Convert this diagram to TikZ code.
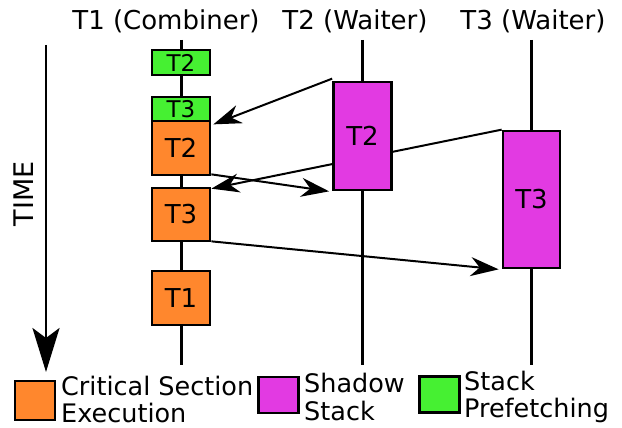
\documentclass[tikz,border=0pt]{standalone}
\usepackage{fontspec}
\setmainfont{DejaVu Sans}
\usetikzlibrary{arrows.meta}
\definecolor{cso}{RGB}{255,135,45}
\definecolor{ssm}{RGB}{226,58,226}
\definecolor{spg}{RGB}{70,240,50}
\tikzset{
  box/.style={draw=black, line width=2.7pt, minimum width=58pt, inner sep=0pt, font=\fontsize{26}{26}\selectfont},
  orangebox/.style={box, fill=cso, minimum height=54pt},
  greenbox/.style={box, fill=spg, font=\fontsize{23}{23}\selectfont},
  magbox/.style={box, fill=ssm},
  tline/.style={line width=3pt},
  conn/.style={line width=2pt, -{Stealth[length=28pt,width=19pt,inset=9pt]}},
  hdr/.style={font=\fontsize{26}{26}\selectfont, inner sep=0pt},
  legtxt/.style={font=\fontsize{25.5}{27.5}\selectfont, align=left, anchor=west, inner sep=0pt},
  legbox/.style={draw=black, line width=2.2pt, minimum width=40pt, minimum height=38pt, inner sep=0pt}
}
\begin{document}
\begin{tikzpicture}[x=1pt,y=-1pt]
\useasboundingbox (0,0) rectangle (622,428);
% headers
\node[hdr] (h1) at (166,21) {T1 (Combiner)};
\node[hdr] (h2) at (355,21) {T2 (Waiter)};
\node[hdr] (h3) at (533,21) {T3 (Waiter)};
% timelines
\coordinate (t1a) at (181,40); \coordinate (t1b) at (181,365);
\coordinate (t2a) at (362,40); \coordinate (t2b) at (362,365);
\coordinate (t3a) at (531,40); \coordinate (t3b) at (531,365);
\draw[tline] (t1a) -- (t1b);
\draw[tline] (t2a) -- (t2b);
\draw[tline] (t3a) -- (t3b);
% T1 boxes
\node[greenbox, minimum height=25pt] (g2) at (181,62.5) {T2};
\node[greenbox, minimum height=24pt] (g3) at (181,109) {T3};
\node[orangebox] (o2) at (181,148) {T2};
\node[orangebox, minimum height=53pt] (o3) at (181,214.5) {T3};
\node[orangebox] (o1) at (181,298) {T1};
% T3 box and arrow passing behind T2 box
\node[magbox, minimum width=57pt, minimum height=137pt] (m3) at (531.5,199.5) {T3};
\draw[conn] (m3.north west) -- ([yshift=-2pt]o3.north east);
% T2 box
\node[magbox, minimum height=108pt] (m2) at (362.5,136) {T2};
\draw[conn] ([yshift=2pt]m2.north west) -- ([xshift=2pt,yshift=-2pt]g3.south east);
\draw[conn] ([yshift=2pt]o2.south east) -- ([xshift=-3pt]m2.south west);
\draw[conn] ([yshift=1pt]o3.south east) -- ([xshift=-3pt]m3.south west);
% time arrow
\coordinate (ta) at (46,45); \coordinate (tb) at (46,372);
\draw[line width=2.8pt, -{Stealth[length=44pt,width=27pt,inset=10pt]}] (ta) -- (tb);
\node[rotate=90, font=\fontsize{27}{27}\selectfont, inner sep=0pt] (time) at (24,194) {TIME};
% legend
\node[legbox, fill=cso, minimum height=39pt] (l1) at (35,400.5) {};
\node[legtxt] (l1t) at (61,399.5) {Critical Section\\Execution};
\node[legbox, fill=ssm, minimum height=36pt] (l2) at (278.5,395) {};
\node[legtxt] (l2t) at (304,397) {Shadow\\Stack};
\node[legbox, fill=spg, minimum height=36pt] (l3) at (439.5,394.5) {};
\node[legtxt] (l3t) at (464,397) {Stack\\Prefetching};
\end{tikzpicture}
\end{document}
